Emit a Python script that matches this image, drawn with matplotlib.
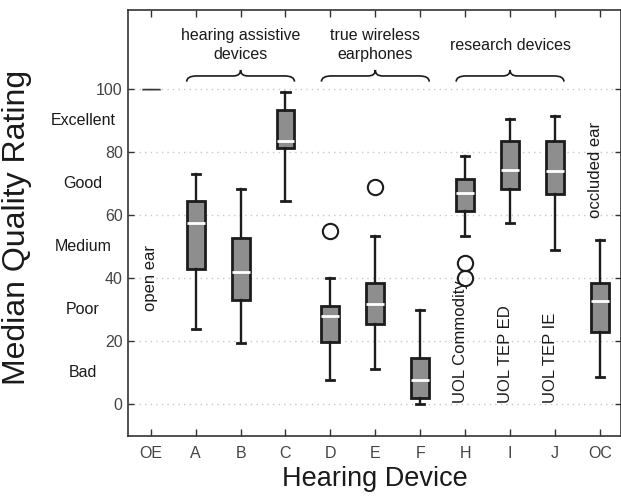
import matplotlib
matplotlib.use("Agg")
import matplotlib.pyplot as plt
from matplotlib.path import Path
from matplotlib.patches import PathPatch

plt.rcParams["font.family"] = ["Liberation Sans", "DejaVu Sans"]

# box statistics
devices = ["OE", "A", "B", "C", "D", "E", "F", "H", "I", "J", "OC"]
whislo = [100.0, 23.9, 19.5, 64.6, 7.7, 11.1, 0.0, 53.4, 57.6, 48.9, 8.7]
q1 = [99.6, 42.8, 33.2, 81.4, 19.7, 25.6, 2.0, 61.4, 68.4, 66.8, 22.9]
med = [100.0, 57.6, 42.0, 83.6, 28.1, 31.8, 7.6, 67.1, 74.2, 74.1, 32.8]
q3 = [100.0, 64.4, 52.8, 93.3, 31.3, 38.4, 14.8, 71.6, 83.4, 83.4, 38.4]
whishi = [100.0, 73.1, 68.3, 99.1, 40.0, 53.5, 29.8, 78.7, 90.3, 91.4, 52.1]
fliers = [[], [], [], [], [54.9], [68.9], [], [44.7, 40.0], [], [], []]

rating_ticks = [0, 20, 40, 60, 80, 100]
rating_words = ["Bad", "Poor", "Medium", "Good", "Excellent"]
rating_word_pos = [10, 30, 50, 70, 90]

groups = ["hearing assistive\ndevices", "true wireless\nearphones", "research devices"]
group_centre = [3, 6, 9]

rotated_labels = {1: "open ear", 8: "UOL Commodity", 9: "UOL TEP ED",
                  10: "UOL TEP IE", 11: "occluded ear"}

fig = plt.figure(figsize=(6.21, 4.96), dpi=100)
ax = fig.add_axes([128.3 / 621, 60 / 496, (621 - 128.3) / 621, 426 / 496])

positions = list(range(1, len(devices) + 1))
stats = []
for i, name in enumerate(devices):
    stats.append(dict(label=name, whislo=whislo[i], q1=q1[i], med=med[i],
                      q3=q3[i], whishi=whishi[i], fliers=fliers[i]))

dark = "#1c1c1c"
ax.bxp(stats[1:], positions=positions[1:], widths=0.4, patch_artist=True,
       capwidths=0.18,
       boxprops=dict(facecolor="#8e8e8e", edgecolor=dark, linewidth=2.0),
       whiskerprops=dict(color=dark, linewidth=1.7),
       capprops=dict(color=dark, linewidth=2.0),
       medianprops=dict(color="white", linewidth=2.0),
       flierprops=dict(marker="o", markersize=11, markerfacecolor="none",
                       markeredgecolor=dark, markeredgewidth=1.5))
# the open ear box is a flat sliver at 100
ax.bxp(stats[:1], positions=positions[:1], widths=0.4, patch_artist=True,
       capwidths=0.18,
       boxprops=dict(facecolor="#555555", edgecolor="#bbbbbb", linewidth=0.8),
       whiskerprops=dict(color="#bbbbbb", linewidth=0.8),
       capprops=dict(color="#bbbbbb", linewidth=0.8),
       medianprops=dict(color="#333333", linewidth=1.0))

ax.set_xlim(0.5, 11.47)
ax.set_ylim(-10, 125)
ax.set_xticks(positions)
ax.set_xticklabels(devices)
ax.set_yticks(rating_ticks)
ax.set_yticklabels([str(t) for t in rating_ticks])

ax.grid(axis="y", color="#c8c8c8", linestyle=(0, (1, 3)), linewidth=1.0)
ax.set_axisbelow(True)

for s in ax.spines.values():
    s.set_color("#333333")
    s.set_linewidth(1.2)

ax.tick_params(axis="x", direction="in", top=True, length=5, width=1,
               color="#333333", labelsize=11.5, labelcolor="#444444", pad=7)
ax.tick_params(axis="y", direction="in", left=True, right=True, length=4,
               width=1, color="#333333", labelsize=11.5,
               labelcolor="#444444", pad=4)

# word scale left of the numbers
for w, y in zip(rating_words, rating_word_pos):
    ax.text(-0.092, y, w, transform=ax.get_yaxis_transform(), ha="center",
            va="center", fontsize=11.5, color="#1a1a1a")

ax.set_xlabel("Hearing Device", fontsize=19.5, color="#1a1a1a", labelpad=4)
ax.set_ylabel("Median Quality Rating", fontsize=23, color="#1a1a1a")
ax.yaxis.set_label_coords(-0.195, 0.49)


def brace(xc, half, y0=102.3, y1=104.1, y2=106.0, r=0.22, rc=0.16):
    verts = [(xc - half, y0), (xc - half, y1), (xc - half + r, y1),
             (xc - rc, y1), (xc, y1), (xc, y2),
             (xc, y1), (xc + rc, y1),
             (xc + half - r, y1), (xc + half, y1), (xc + half, y0)]
    codes = [Path.MOVETO, Path.CURVE3, Path.CURVE3,
             Path.LINETO, Path.CURVE3, Path.CURVE3,
             Path.CURVE3, Path.CURVE3,
             Path.LINETO, Path.CURVE3, Path.CURVE3]
    ax.add_patch(PathPatch(Path(verts, codes), facecolor="none",
                           edgecolor="#1a1a1a", linewidth=1.2))


for g, xc in zip(groups, group_centre):
    brace(xc, 1.2)
    ax.text(xc, 113.9, g, ha="center", va="center", fontsize=11.5,
            color="#1a1a1a", linespacing=1.4)

for pos, txt in rotated_labels.items():
    if txt == "open ear":
        ax.text(pos, 40, txt, rotation=90, ha="center", va="center",
                fontsize=12, color="#1a1a1a")
    elif txt == "occluded ear":
        ax.text(pos - 0.1, 89.5, txt, rotation=90, ha="center", va="top",
                fontsize=12, color="#1a1a1a")
    else:
        ax.text(pos - 0.1, 0.5, txt, rotation=90, ha="center", va="bottom",
                fontsize=12, color="#1a1a1a")

fig.savefig("out.png", dpi=100)
